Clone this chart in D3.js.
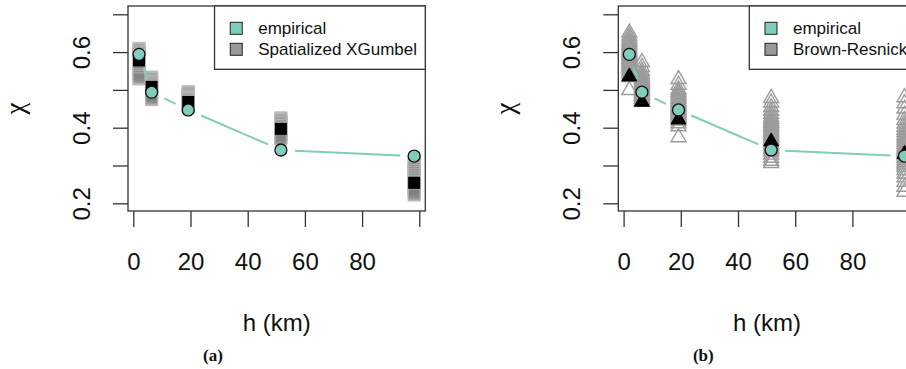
<!DOCTYPE html>
<html><head><meta charset="utf-8">
<script src="https://cdn.jsdelivr.net/npm/d3@7"></script>
<style>
body{margin:0;background:#fff}
svg{display:block}
text{fill:#111}
</style>
</head><body>
<svg id="c" width="906" height="369"></svg>
<script>
// ---------- data ----------
const distances = [2.0, 6.4, 19.2, 51.6, 98.2];           // h (km)
const empirical = [0.594, 0.494, 0.447, 0.341, 0.325];    // empirical chi
const xgumbelEstimate = [0.578, 0.508, 0.468, 0.397, 0.254];
const xgumbelSims = [
  [0.610,0.606,0.602,0.598,0.595,0.592,0.589,0.586,0.583,0.580,0.577,0.574,0.570,0.566,0.561,0.556,0.548,0.540,0.535,0.529],
  [0.534,0.530,0.526,0.522,0.519,0.516,0.513,0.510,0.507,0.504,0.500,0.497,0.493,0.489,0.484,0.479,0.474],
  [0.495,0.492,0.489,0.486,0.483,0.480,0.477,0.474,0.471,0.468,0.465,0.462,0.459,0.455],
  [0.426,0.422,0.418,0.414,0.410,0.406,0.402,0.398,0.394,0.390,0.386,0.382,0.378,0.374,0.370],
  [0.312,0.305,0.298,0.292,0.287,0.282,0.277,0.272,0.267,0.262,0.257,0.252,0.247,0.242,0.237,0.232,0.227,0.222]
];
const brEstimate = [0.537, 0.470, 0.423, 0.365, 0.332];
const brSims = [
  [0.653,0.645,0.638,0.632,0.627,0.622,0.617,0.612,0.607,0.603,0.599,0.595,0.591,0.587,0.583,0.579,0.575,0.571,0.566,0.561,0.556,0.550,0.543,0.535,0.501],
  [0.575,0.562,0.552,0.545,0.540,0.535,0.530,0.526,0.522,0.518,0.514,0.510,0.506,0.502,0.498,0.494,0.490,0.486,0.482,0.478,0.474,0.470],
  [0.530,0.515,0.503,0.497,0.492,0.487,0.482,0.477,0.472,0.468,0.464,0.460,0.456,0.452,0.448,0.444,0.440,0.436,0.431,0.426,0.420,0.413,0.405,0.376],
  [0.480,0.468,0.456,0.446,0.438,0.431,0.425,0.419,0.414,0.409,0.404,0.399,0.394,0.389,0.384,0.379,0.374,0.369,0.364,0.359,0.354,0.349,0.344,0.338,0.330,0.322,0.314,0.308],
  [0.482,0.466,0.452,0.436,0.422,0.412,0.404,0.396,0.389,0.382,0.376,0.370,0.364,0.358,0.352,0.346,0.340,0.334,0.328,0.322,0.316,0.310,0.304,0.297,0.289,0.280,0.270,0.258,0.245,0.232]
];
const xTicks = [0, 20, 40, 60, 80, 100];
const xTickLabels = ["0", "20", "40", "60", "80", ""];
const yTicks = [0.2, 0.3, 0.4, 0.5, 0.6, 0.7];
const yTickLabels = ["0.2", "", "0.4", "", "0.6", ""];
const legendLabelsA = ["empirical", "Spatialized XGumbel"];
const legendLabelsB = ["empirical", "Brown-Resnick"];
const xTitle = "h (km)";
const yTitle = "\u03C7";
const captions = ["(a)", "(b)"];

// ---------- styles ----------
const SANS = "'Liberation Sans', Arial, Helvetica, sans-serif";
const SERIF = "'Liberation Serif', 'DejaVu Serif', serif";
const TEAL = "#80CDBC";
const AXC = "#333";
const svg = d3.select("#c");

const panels = [
  {left:128, sims:xgumbelSims, est:xgumbelEstimate, shape:"square", legend:legendLabelsA, caption:captions[0]},
  {left:618.3, sims:brSims, est:brEstimate, shape:"triangle", legend:legendLabelsB, caption:captions[1]}
];
const PW = 297.3, TOP = 6, BOTTOM = 211;

panels.forEach(p => {
  const g = svg.append("g").style("font-family", SANS);
  const x = d3.scaleLinear().domain([0, 100]).range([p.left + 5.3, p.left + 291.3]);
  const y = d3.scaleLinear().domain([0.2, 0.7]).range([203.3, 14.3]);

  // simulated markers
  const simData = [];
  p.sims.forEach((arr, i) => arr.forEach(v => simData.push({h: distances[i], v})));
  if (p.shape === "square") {
    g.append("g").selectAll("rect").data(simData).join("rect")
      .attr("x", d => x(d.h) - 6).attr("y", d => y(d.v) - 6)
      .attr("width", 12).attr("height", 12)
      .attr("fill", "#808080").attr("fill-opacity", 0.55)
      .attr("stroke", "#b8b8b8").attr("stroke-width", 1);
    g.append("g").selectAll("rect").data(p.est).join("rect")
      .attr("x", (d, i) => x(distances[i]) - 6).attr("y", d => y(d) - 6)
      .attr("width", 12).attr("height", 12).attr("fill", "#000");
  } else {
    const tri = (cx, cy) => `M${cx},${cy - 8}L${cx + 7.5},${cy + 5}L${cx - 7.5},${cy + 5}Z`;
    g.append("g").selectAll("path").data(simData).join("path")
      .attr("d", d => tri(x(d.h), y(d.v)))
      .attr("fill", "none").attr("stroke", "#9c9c9c").attr("stroke-width", 1.4);
    g.append("g").selectAll("path").data(p.est).join("path")
      .attr("d", (d, i) => tri(x(distances[i]), y(d)))
      .attr("fill", "#000").attr("stroke", "#000").attr("stroke-width", 1);
  }

  // teal line with gaps (type "b")
  const pts = distances.map((h, i) => [x(h), y(empirical[i])]);
  const gap = 14;
  const segs = [];
  for (let i = 0; i < pts.length - 1; i++) {
    const [x0, y0] = pts[i], [x1, y1] = pts[i + 1];
    const L = Math.hypot(x1 - x0, y1 - y0);
    if (L > 2 * gap) {
      const ux = (x1 - x0) / L, uy = (y1 - y0) / L;
      segs.push([x0 + ux * gap, y0 + uy * gap, x1 - ux * gap, y1 - uy * gap]);
    }
  }
  g.append("g").selectAll("line").data(segs).join("line")
    .attr("x1", d => d[0]).attr("y1", d => d[1]).attr("x2", d => d[2]).attr("y2", d => d[3])
    .attr("stroke", TEAL).attr("stroke-width", 2);

  // empirical circles
  g.append("g").selectAll("circle").data(empirical).join("circle")
    .attr("cx", (d, i) => x(distances[i])).attr("cy", d => y(d)).attr("r", 6)
    .attr("fill", TEAL).attr("stroke", "#111").attr("stroke-width", 1.3);

  // box
  g.append("rect").attr("x", p.left).attr("y", TOP).attr("width", PW).attr("height", BOTTOM - TOP)
    .attr("fill", "none").attr("stroke", AXC).attr("stroke-width", 1.3);

  // x axis
  const xa = g.append("g").attr("transform", `translate(0,${BOTTOM})`)
    .call(d3.axisBottom(x).tickValues(xTicks).tickSize(16).tickSizeOuter(0)
      .tickFormat((d, i) => xTickLabels[i]));
  xa.select(".domain").remove();
  xa.selectAll("line").attr("stroke", AXC).attr("stroke-width", 1.3);
  xa.selectAll("text").attr("y", 59).attr("dy", null)
    .style("font-size", "24px").style("font-family", SANS).attr("fill", "#111");

  // y axis
  const ya = g.append("g").attr("transform", `translate(${p.left},0)`)
    .call(d3.axisLeft(y).tickValues(yTicks).tickSize(15).tickSizeOuter(0)
      .tickFormat((d, i) => yTickLabels[i]));
  ya.select(".domain").remove();
  ya.selectAll("line").attr("stroke", AXC).attr("stroke-width", 1.3);
  ya.selectAll("text").attr("transform", "rotate(-90)").attr("x", 0).attr("y", -38).attr("dy", null)
    .attr("text-anchor", "middle").style("font-size", "24px")
    .style("font-family", SANS).attr("fill", "#111");

  // axis titles
  g.append("text").attr("transform", `translate(${p.left - 104},${(TOP + BOTTOM) / 2}) rotate(-90)`)
    .attr("text-anchor", "middle").style("font-size", "27px").style("font-family", SERIF).text(yTitle);
  g.append("text").attr("x", p.left + PW / 2).attr("y", 331)
    .attr("text-anchor", "middle").style("font-size", "24px").text(xTitle);
  g.append("text").attr("x", p.left + 85).attr("y", 361)
    .attr("text-anchor", "middle").style("font-size", "17px").style("font-weight", "bold")
    .style("font-family", SERIF).text(p.caption);

  // legend
  const lg = g.append("g");
  const texts = lg.selectAll("text").data(p.legend).join("text")
    .style("font-size", "17px").attr("y", (d, i) => 34 + i * 21).text(d => d);
  let maxW = 0;
  texts.each(function () { maxW = Math.max(maxW, this.getComputedTextLength()); });
  const lw = maxW + 52;
  const lx = p.left + PW - lw;
  lg.insert("rect", "text").attr("x", lx).attr("y", TOP).attr("width", lw).attr("height", 63.3)
    .attr("fill", "#fff").attr("stroke", AXC).attr("stroke-width", 1.3);
  texts.attr("x", lx + 43.7);
  lg.selectAll("rect.sw").data([TEAL, "#999999"]).join("rect").attr("class", "sw")
    .attr("x", lx + 15.7).attr("y", (d, i) => 22.3 + i * 21).attr("width", 12).attr("height", 12)
    .attr("fill", d => d).attr("stroke", "#222").attr("stroke-width", 1);
});
</script>
</body></html>
